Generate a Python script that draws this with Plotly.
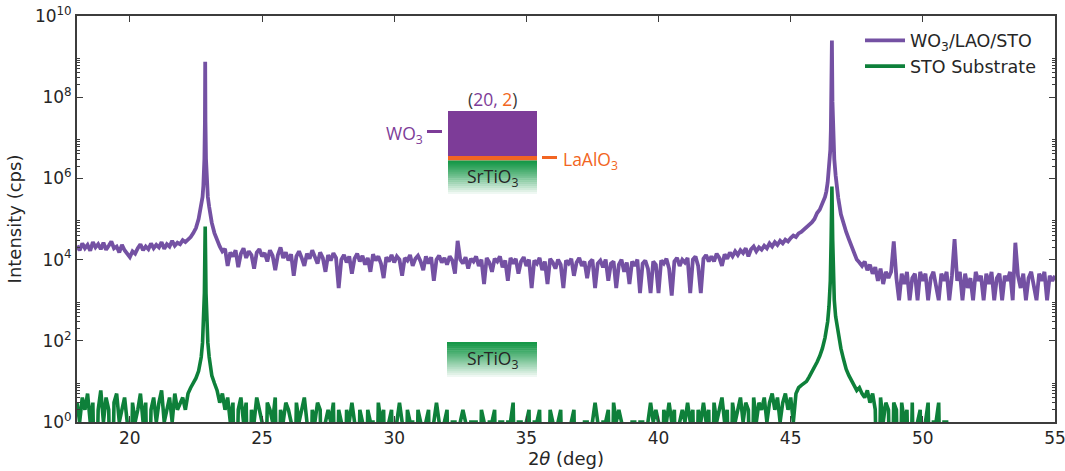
import numpy as np
import plotly.graph_objects as go

# ---------------- data ----------------
scan_start = 18.0   # deg
scan_step = 0.1     # deg, base scan grid 18.0 ... 55.0

# WO3/LAO/STO intensity (cps) on the base grid, one row per degree
wo3_lao_sto = [
    22000, 17000, 25000, 19000, 23000, 16500, 27000, 20000, 24000, 18000,   # 18
    26000, 17500, 22000, 28000, 19000, 21000, 15000, 23000, 17000, 13500,   # 19
    11500, 16000, 14000, 19000, 24000, 17000, 21000, 18000, 25000, 19000,   # 20
    23000, 20000, 27000, 18500, 24000, 21000, 29000, 22000, 26000, 24000,   # 21
    30000, 27000, 31000, 36000, 45000, 60000, 100000, 200000, 1100000, 1100000,  # 22
    200000, 80000, 45000, 30000, 21000, 16000, 18500, 7000, 15000, 12000,   # 23
    17000, 6500, 14000, 19000, 11000, 16000, 13000, 6000, 15000, 18000,     # 24
    12000, 14500, 9000, 17000, 12500, 5500, 13000, 20000, 11000, 15000,     # 25
    9500, 13500, 4000, 12000, 16000, 11000, 7000, 14000, 10500, 17000,      # 26
    12000, 8000, 15000, 11000, 5000, 13000, 9500, 14500, 11000, 2000,       # 27
    10000, 13000, 8500, 12000, 4500, 10500, 14000, 9000, 12500, 7500,       # 28
    11000, 5000, 13500, 9500, 12000, 8000, 3500, 11500, 9000, 13000,        # 29
    8500, 12000, 10000, 4000, 11000, 9500, 13000, 7000, 10500, 12500,       # 30
    9000, 5500, 12000, 8000, 11500, 3000, 10000, 12500, 8500, 11000,        # 31
    7500, 12000, 9500, 4500, 29000, 10000, 8000, 11500, 6000, 10500,        # 32
    9000, 12000, 7000, 10000, 2500, 11000, 8500, 5000, 10500, 9000,         # 33
    12000, 6500, 9500, 3000, 11000, 8000, 10500, 4500, 9000, 11500,         # 34
    7000, 10000, 2000, 9500, 8000, 11000, 5500, 9000, 2500, 10500,          # 35
    8500, 6000, 10000, 7500, 2000, 9500, 8000, 10500, 4000, 8500,           # 36
    11000, 7000, 9000, 3500, 8500, 10000, 2000, 8000, 9500, 6500,           # 37
    10000, 3000, 8000, 9000, 2000, 7500, 10000, 5000, 8500, 2500,           # 38
    9000, 7000, 10000, 1500, 8000, 9500, 6000, 1500, 9000, 7500,            # 39
    1500, 9500, 8000, 10500, 6000, 1300, 9000, 11000, 7000, 10000,          # 40
    8500, 11000, 1500, 10000, 12000, 7000, 1500, 10500, 13000, 9000,        # 41
    12000, 9000, 14000, 11000, 7000, 13500, 10500, 15000, 12000, 16000,     # 42
    13000, 17000, 14500, 19000, 12000, 18000, 21000, 16000, 20000, 17500,   # 43
    22000, 19000, 25000, 21000, 27000, 23000, 29000, 25000, 31000, 28000,   # 44
    34000, 39000, 36000, 44000, 48000, 55000, 60000, 70000, 82000, 100000,  # 45
    140000, 170000, 230000, 350000, 800000, 5000000, 15000000, 1200000, 330000, 130000,  # 46
    75000, 48000, 32000, 22000, 16000, 10000, 8500, 7000, 9000, 5500,       # 47
    7500, 4500, 6500, 3000, 6000, 2500, 5000, 3500, 5000, 28000,            # 48
    3500, 1000, 4500, 2500, 5000, 1000, 3500, 4500, 1000, 5000,             # 49
    3000, 4500, 1000, 3500, 5000, 2500, 1000, 4500, 3000, 5000,             # 50
    1000, 4000, 32000, 3000, 5000, 1000, 4500, 2000, 3500, 1000,            # 51
    5000, 3000, 4000, 1000, 4500, 2500, 5000, 1000, 3500, 4500,             # 52
    1000, 4000, 3000, 5000, 1000, 26000, 4000, 2000, 4500, 1000,            # 53
    3500, 5000, 2500, 1000, 4500, 3000, 5000, 1000, 4000, 3000,             # 54
    4000,                                                                   # 55
]

# STO substrate intensity (cps) on the base grid (0 = no counts)
sto_substrate = [
    3, 1, 4, 2, 5, 1, 3, 0, 2, 6,          # 18
    1, 4, 2, 0, 3, 5, 1, 2, 4, 1,          # 19
    0, 3, 1, 2, 5, 1, 3, 0, 2, 4,          # 20
    1, 3, 6, 1, 2, 4, 1, 5, 2, 3,          # 21
    4, 2, 5, 7, 9, 12, 18, 40, 400, 400,   # 22
    40, 14, 9, 6, 3, 5, 2, 4, 1, 3,        # 23
    0, 2, 4, 1, 3, 0, 2, 1, 4, 2,          # 24
    1, 0, 3, 2, 1, 4, 0, 2, 1, 3,          # 25
    2, 1, 0, 3, 1, 2, 4, 1, 0, 2,          # 26
    1, 3, 2, 0, 1, 2, 1, 3, 0, 2,          # 27
    1, 0, 2, 1, 3, 1, 0, 2, 1, 0,          # 28
    2, 1, 1, 0, 3, 1, 2, 0, 1, 2,          # 29
    0, 1, 3, 1, 0, 2, 1, 1, 0, 2,          # 30
    1, 0, 1, 2, 0, 1, 3, 1, 0, 1,          # 31
    2, 0, 1, 1, 0, 1, 2, 1, 0, 1,          # 32
    1, 1, 0, 2, 1, 0, 1, 1, 2, 0,          # 33
    1, 1, 0, 1, 1, 3, 0, 1, 1, 0,          # 34
    1, 2, 0, 1, 1, 2, 0, 1, 0, 2,          # 35
    1, 0, 1, 2, 0, 1, 0, 1, 2, 0,          # 36
    1, 0, 1, 1, 0, 1, 3, 1, 0, 1,          # 37
    1, 2, 0, 3, 1, 2, 1, 0, 1, 0,          # 38
    1, 1, 0, 1, 1, 0, 1, 3, 1, 2,          # 39
    1, 0, 2, 1, 3, 1, 2, 0, 1, 2,          # 40
    1, 3, 1, 2, 0, 2, 1, 3, 1, 2,          # 41
    0, 3, 1, 2, 4, 1, 2, 0, 3, 1,          # 42
    2, 4, 1, 3, 2, 0, 4, 1, 3, 2,          # 43
    4, 1, 3, 5, 2, 4, 1, 3, 5, 2,          # 44
    4, 1, 5, 7, 8, 9, 10, 13, 17, 22,      # 45
    30, 42, 65, 120, 300, 3000, 8000, 400, 150, 65,  # 46
    35, 20, 14, 10, 8, 6, 7, 5, 4, 6,      # 47
    3, 5, 2, 0, 4, 1, 3, 2, 0, 3,          # 48
    2, 0, 3, 1, 2, 0, 3, 0, 1, 2,          # 49
    0, 1, 3, 0, 1, 1, 3, 0, 1, 1,          # 50
    0, 0, 0, 0, 0, 0, 0, 0, 0, 0,          # 51
    0, 0, 0, 0, 0, 0, 0, 0, 0, 0,          # 52
    0, 0, 0, 0, 0, 0, 0, 0, 0, 0,          # 53
    0, 0, 0, 0, 0, 0, 0, 0, 0, 0,          # 54
    0,                                     # 55
]

# finer points measured around the two Bragg peaks
wo3_peak_two_theta = [22.75, 22.78, 22.82, 22.84, 22.85, 22.86, 22.88, 22.92, 22.95,
                      46.35, 46.45, 46.52, 46.54, 46.56, 46.58, 46.62, 46.65, 46.75]
wo3_peak_counts = [350000, 650000, 3000000, 25000000, 750000000, 25000000, 3000000, 650000, 350000,
                   480000, 2000000, 15000000, 80000000, 2500000000, 80000000, 7000000, 3000000, 600000]

sto_peak_two_theta = [22.75, 22.82, 22.84, 22.85, 22.86, 22.88, 22.95,
                      46.35, 46.45, 46.53, 46.56, 46.59, 46.62, 46.65]
sto_peak_counts = [90, 1500, 20000, 65000, 20000, 1500, 90,
                   180, 700, 30000, 630000, 30000, 3000, 1000]

series_names = ["WO<sub>3</sub>/LAO/STO", "STO Substrate"]
x_ticks = [20, 25, 30, 35, 40, 45, 50, 55]
y_tick_exponents = [0, 2, 4, 6, 8, 10]

assert len(wo3_lao_sto) == 371 and len(sto_substrate) == 371


def merge(grid_vals, extra_x, extra_y):
    gx = np.round(scan_start + scan_step * np.arange(len(grid_vals)), 2)
    x = np.concatenate([gx, np.asarray(extra_x, float)])
    y = np.concatenate([np.asarray(grid_vals, float), np.asarray(extra_y, float)])
    order = np.argsort(x, kind="stable")
    return x[order], y[order]


x_wo3, y_wo3 = merge(wo3_lao_sto, wo3_peak_two_theta, wo3_peak_counts)
x_sto, y_sto = merge(sto_substrate, sto_peak_two_theta, sto_peak_counts)
# zero counts drop below the log axis (clipped), as in the original plot
y_sto_plot = np.where(y_sto > 0, y_sto, 1e-3)

# ---------------- styling ----------------
W, H = 1065, 471
PLOT_X0, PLOT_X1, PLOT_Y0, PLOT_Y1 = 77, 1055, 16, 422   # plot area in page pixels
L, T = PLOT_X0, PLOT_Y0
R, B = W - PLOT_X1, H - PLOT_Y1
PW, PH = PLOT_X1 - PLOT_X0, PLOT_Y1 - PLOT_Y0

PURPLE_LINE = "#7451a3"
GREEN_LINE = "#0e803a"
FILM_PURPLE = "#7d3c98"
LAO_ORANGE = "#f26522"
STO_GREEN = (22, 152, 72)
AX_COLOR = "#3c3c3c"
TXT = "#262626"
FONT = "DejaVu Sans"
INSET_FONT = "Open Sans"


def px(xp):
    return (xp - PLOT_X0) / PW


def py(yp):
    return (PLOT_Y1 - yp) / PH


fig = go.Figure()
fig.add_trace(go.Scatter(x=x_wo3, y=y_wo3, mode="lines", name=series_names[0],
                         line=dict(color=PURPLE_LINE, width=3.8)))
fig.add_trace(go.Scatter(x=x_sto, y=y_sto_plot, mode="lines", name=series_names[1],
                         line=dict(color=GREEN_LINE, width=3.6)))

shapes = []
annotations = []


def rect(x0, y0, x1, y1, color):
    shapes.append(dict(type="rect", xref="paper", yref="paper",
                       x0=px(x0), x1=px(x1), y0=py(y1), y1=py(y0),
                       fillcolor=color, line=dict(width=0), layer="above"))


def gradient(x0, y0, x1, y1, n=18):
    h = (y1 - y0) / n
    for i in range(n):
        t = (i / (n - 1)) ** 1.15
        c = tuple(int(round(STO_GREEN[k] * (1 - t) + 255 * t)) for k in range(3))
        rect(x0, y0 + i * h, x1, y0 + (i + 1) * h + 0.6, "rgb(%d,%d,%d)" % c)


def dash(x0, x1, y, color):
    shapes.append(dict(type="line", xref="paper", yref="paper",
                       x0=px(x0), x1=px(x1), y0=py(y), y1=py(y),
                       line=dict(color=color, width=3), layer="above"))


def label(x, y, text, color, size=17.5, xanchor="center"):
    annotations.append(dict(x=px(x), y=py(y), xref="paper", yref="paper", text=text,
                            showarrow=False, xanchor=xanchor, yanchor="middle",
                            font=dict(family=INSET_FONT, size=size, color=color)))


# heterostructure sketch
rect(448, 111, 537, 156, FILM_PURPLE)
rect(448, 156, 537, 160.5, LAO_ORANGE)
gradient(448, 160.5, 537, 196)
dash(427, 442, 131.5, FILM_PURPLE)
dash(542, 557, 157.5, LAO_ORANGE)
label(492, 99, "(<span style='color:%s'>20,</span> <span style='color:%s'>2</span>)"
      % (FILM_PURPLE, LAO_ORANGE), "#3a3a3a")
label(425, 134, "WO<sub>3</sub>", FILM_PURPLE, xanchor="right")
label(561, 161, "LaAlO<sub>3</sub>", LAO_ORANGE, xanchor="left")
label(492, 178, "SrTiO<sub>3</sub>", TXT)

# substrate sketch
gradient(447, 342, 537, 379)
label(492, 359, "SrTiO<sub>3</sub>", TXT)

axis_common = dict(showline=True, linecolor=AX_COLOR, linewidth=1.8, mirror="ticks",
                   ticks="inside", ticklen=6.5, tickwidth=1.3, tickcolor=AX_COLOR,
                   showgrid=False, zeroline=False, ticklabeloverflow="allow",
                   automargin=False,
                   tickfont=dict(family=FONT, size=17, color=TXT))

fig.update_layout(
    width=W, height=H, autosize=False,
    margin=dict(l=L, r=R, t=T, b=B, autoexpand=False),
    paper_bgcolor="white", plot_bgcolor="white",
    font=dict(family=FONT, size=17, color=TXT),
    showlegend=True,
    legend=dict(x=px(860), y=py(22.5), xanchor="left", yanchor="top",
                bgcolor="rgba(0,0,0,0)", borderwidth=0,
                font=dict(family=FONT, size=17.5, color=TXT), itemwidth=40),
    shapes=shapes, annotations=annotations,
    xaxis=dict(range=[18, 55], tickvals=x_ticks, ticktext=[str(v) for v in x_ticks],
               title=dict(text="2<i>θ</i> (deg)", standoff=3,
                          font=dict(family=FONT, size=18, color=TXT)),
               **axis_common),
    yaxis=dict(type="log", range=[0, 10],
               tickvals=[10.0 ** e for e in y_tick_exponents],
               ticktext=["10<sup>%d</sup>" % e for e in y_tick_exponents],
               minor=dict(tickvals=[k * 10.0 ** e for e in y_tick_exponents[:-1] for k in range(2, 10)],
                          ticks="inside", ticklen=3.5, tickwidth=1, tickcolor=AX_COLOR),
               title=dict(text="Intensity (cps)", standoff=9,
                          font=dict(family=FONT, size=18, color=TXT)),
               **axis_common),
)

# place the figure exactly at the window's top-left corner (no page margin / stray line boxes)
page_js = ("var s=document.body.style;s.margin='0';s.padding='0';s.overflow='hidden';"
           "s.lineHeight='0';s.fontSize='0';"
           "document.documentElement.style.overflow='hidden';")
fig.write_html("out.html", post_script=page_js, config={"displayModeBar": False})
